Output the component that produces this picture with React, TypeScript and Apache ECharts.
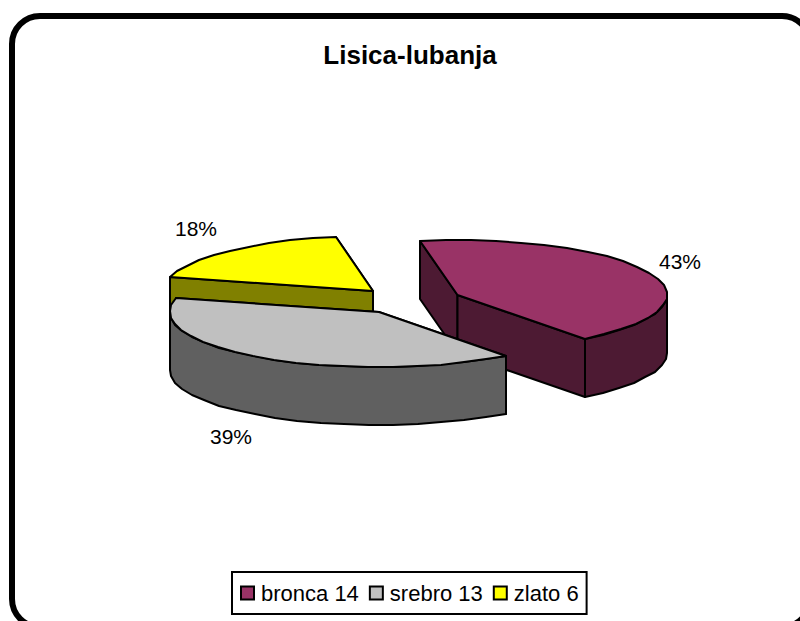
import React, { useEffect, useRef } from "react";
import * as echarts from "echarts";

const TITLE = "Lisica-lubanja";
const sliceNames = ["bronca 14", "srebro 13", "zlato 6"];
const sliceValues = [14, 13, 6];
const percentLabels = ["43%", "39%", "18%"];
const topColors = ["#993366", "#c0c0c0", "#ffff00"];
const sideColors = ["#4d1a33", "#606060", "#808000"];

// layout of the exploded, tilted pie
const START_DEG = -10.2;
const RX = 209.5;
const RY = 55;
const DEPTH = 58;
const apexes = [
  [457.5, 295],
  [379, 312],
  [373, 291],
];
const labelCenters = [
  [680, 261],
  [231, 436],
  [196, 228],
];
const drawOrder = [0, 2, 1];
const FONT = "'Liberation Sans', Arial, sans-serif";
const LINE = 2;

const total = sliceValues.reduce((a, b) => a + b, 0);
const rad = (d: number) => (d * Math.PI) / 180;

function sliceAngles(i: number): [number, number] {
  let before = 0;
  for (let k = 0; k < i; k++) before += sliceValues[k];
  const a0 = START_DEG + (before / total) * 360;
  return [a0, a0 + (sliceValues[i] / total) * 360];
}

function rim(i: number, deg: number, drop = 0): number[] {
  const [cx, cy] = apexes[i];
  return [
    Math.round(cx + RX * Math.sin(rad(deg))),
    Math.round(cy - RY * Math.cos(rad(deg)) + drop),
  ];
}

function arcPoints(i: number, a0: number, a1: number, drop = 0): number[][] {
  const pts: number[][] = [];
  const steps = Math.max(2, Math.ceil((a1 - a0) / 7));
  for (let s = 0; s <= steps; s++) pts.push(rim(i, a0 + ((a1 - a0) * s) / steps, drop));
  return pts;
}

function face(points: number[][], fill: string) {
  return {
    type: "polygon",
    shape: { points },
    style: { fill, stroke: "#000", lineWidth: LINE, lineJoin: "round" },
    silent: true,
  };
}

function makeRenderItem(i: number) {
  return () => {
    const [a0, a1] = sliceAngles(i);
    const [cx, cy] = apexes[i];
    const children: any[] = [];
    const radial = [a0, a1]
      .map((a) => {
        const p = rim(i, a);
        return {
          mid: (p[1] + cy) / 2,
          pts: [[cx, cy], p, [p[0], p[1] + DEPTH], [cx, cy + DEPTH]],
        };
      })
      .sort((x, y) => x.mid - y.mid);
    radial.forEach((r) => children.push(face(r.pts, sideColors[i])));
    // visible outer wall: the part of the rim facing the viewer
    const w0 = Math.max(a0, 90);
    const w1 = Math.min(a1, 270);
    if (w1 > w0) {
      const topArc = arcPoints(i, w0, w1);
      const botArc = arcPoints(i, w0, w1, DEPTH).reverse();
      children.push(face([...topArc, ...botArc], sideColors[i]));
    }
    children.push(face([[cx, cy], ...arcPoints(i, a0, a1)], topColors[i]));
    children.push({
      type: "text",
      x: labelCenters[i][0],
      y: labelCenters[i][1],
      style: {
        text: percentLabels[i],
        fontFamily: FONT,
        fontSize: 21,
        fill: "#000",
        align: "center",
        verticalAlign: "middle",
      },
      silent: true,
    });
    return { type: "group", children };
  };
}

export default function App() {
  const ref = useRef<HTMLDivElement>(null);
  useEffect(() => {
    const chart = echarts.init(ref.current!, undefined, { renderer: "svg" });
    chart.setOption({
      animation: false,
      backgroundColor: "#fff",
      title: {
        text: TITLE,
        left: 405,
        top: 37,
        textAlign: "center",
        textStyle: { fontFamily: FONT, fontSize: 26, fontWeight: "bold", color: "#000" },
      },
      graphic: [
        {
          type: "rect",
          z: -1,
          silent: true,
          shape: { x: 12, y: 16, width: 798, height: 611, r: 28 },
          style: { fill: "#fff", stroke: "#000", lineWidth: 6 },
        },
      ],
      legend: {
        left: 232,
        top: 572,
        orient: "horizontal",
        padding: [10, 8, 10, 8],
        itemWidth: 13,
        itemHeight: 13,
        itemGap: 10,
        borderColor: "#000",
        borderWidth: 2,
        backgroundColor: "#fff",
        icon: "rect",
        textStyle: { fontFamily: FONT, fontSize: 22, color: "#000", padding: [0, 0, 0, 2] },
        data: sliceNames.map((name, i) => ({
          name,
          icon: "rect",
          itemStyle: { color: topColors[i], borderColor: "#000", borderWidth: 2 },
        })),
      },
      series: drawOrder.map((i) => ({
        type: "custom",
        name: sliceNames[i],
        coordinateSystem: "none",
        silent: true,
        itemStyle: { color: topColors[i] },
        data: [sliceValues[i]],
        renderItem: makeRenderItem(i),
      })),
    });
    return () => chart.dispose();
  }, []);
  return (
    <div
      ref={ref}
      style={{ position: "fixed", left: 0, top: 0, width: 800, height: 621, overflow: "hidden" }}
    />
  );
}
